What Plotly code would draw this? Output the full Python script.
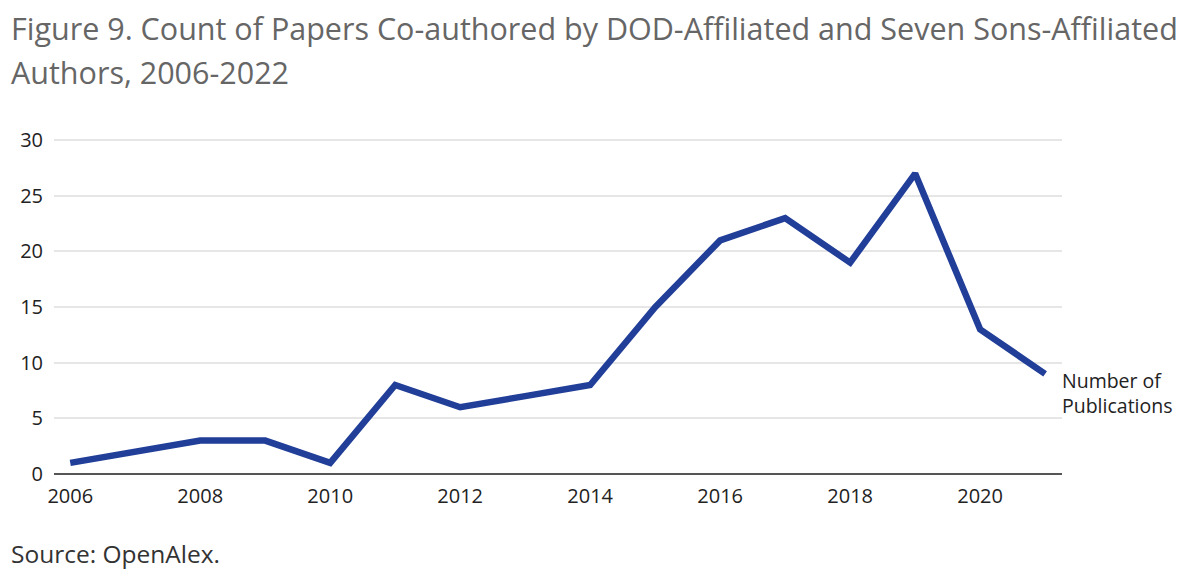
import plotly.graph_objects as go

years = list(range(2006, 2022))
publications = [1, 2, 3, 3, 1, 8, 6, 7, 8, 15, 21, 23, 19, 27, 13, 9]
x_ticks = [2006, 2008, 2010, 2012, 2014, 2016, 2018, 2020]
y_ticks = [0, 5, 10, 15, 20, 25, 30]
title_lines = [
    "Figure 9. Count of Papers Co-authored by DOD-Affiliated and Seven Sons-Affiliated",
    "Authors, 2006-2022",
]

FONT = "Open Sans, Lato, sans-serif"
LINE_COLOR = "#213e98"

fig = go.Figure()

fig.add_trace(go.Scatter(
    x=years,
    y=publications,
    mode="lines",
    line=dict(color=LINE_COLOR, width=6.5),
    hoverinfo="x+y",
    showlegend=False,
))

# series label at the end of the line
fig.add_annotation(
    x=years[-1], y=publications[-1],
    xref="x", yref="y",
    text="Number of<br>Publications",
    showarrow=False,
    xanchor="left", yanchor="middle",
    xshift=15, yshift=-19,
    align="left",
    font=dict(family=FONT, size=19.5, color="#222222"),
)

# title, two lines placed separately to get the looser line spacing
for line, shift in zip(title_lines, [110, 66]):
    fig.add_annotation(
        x=0, y=1, xref="paper", yref="paper",
        text=line,
        showarrow=False, xanchor="left", yanchor="middle",
        align="left", xshift=-45, yshift=shift,
        font=dict(family=FONT, size=30.5, color="#666666"),
    )

fig.add_annotation(
    x=0, y=0, xref="paper", yref="paper",
    text="Source: OpenAlex.",
    showarrow=False, xanchor="left", yanchor="middle",
    align="left", xshift=-45, yshift=-79,
    font=dict(family=FONT, size=24.5, color="#333333"),
)

fig.update_xaxes(
    range=[2005.75, 2021.26],
    tickvals=x_ticks,
    ticktext=[str(t) for t in x_ticks],
    showgrid=False,
    zeroline=False,
    showline=False,
    ticks="",
    ticklabelstandoff=8,
    tickfont=dict(family=FONT, size=20, color="#222222"),
)

fig.update_yaxes(
    range=[0, 30.2],
    tickvals=y_ticks,
    showgrid=True,
    gridcolor="#e6e6e6",
    gridwidth=1.5,
    zeroline=True,
    zerolinecolor="#555555",
    zerolinewidth=2,
    showline=False,
    ticks="",
    ticklabelstandoff=10,
    tickfont=dict(family=FONT, size=20, color="#222222"),
)

# the page adds an 8px body margin, so the figure is a bit smaller than the window
fig.update_layout(
    width=1192,
    height=576,
    margin=dict(l=44, r=138, t=130, b=110),
    paper_bgcolor="white",
    plot_bgcolor="white",
    font=dict(family=FONT),
)

fig.write_html("out.html")
